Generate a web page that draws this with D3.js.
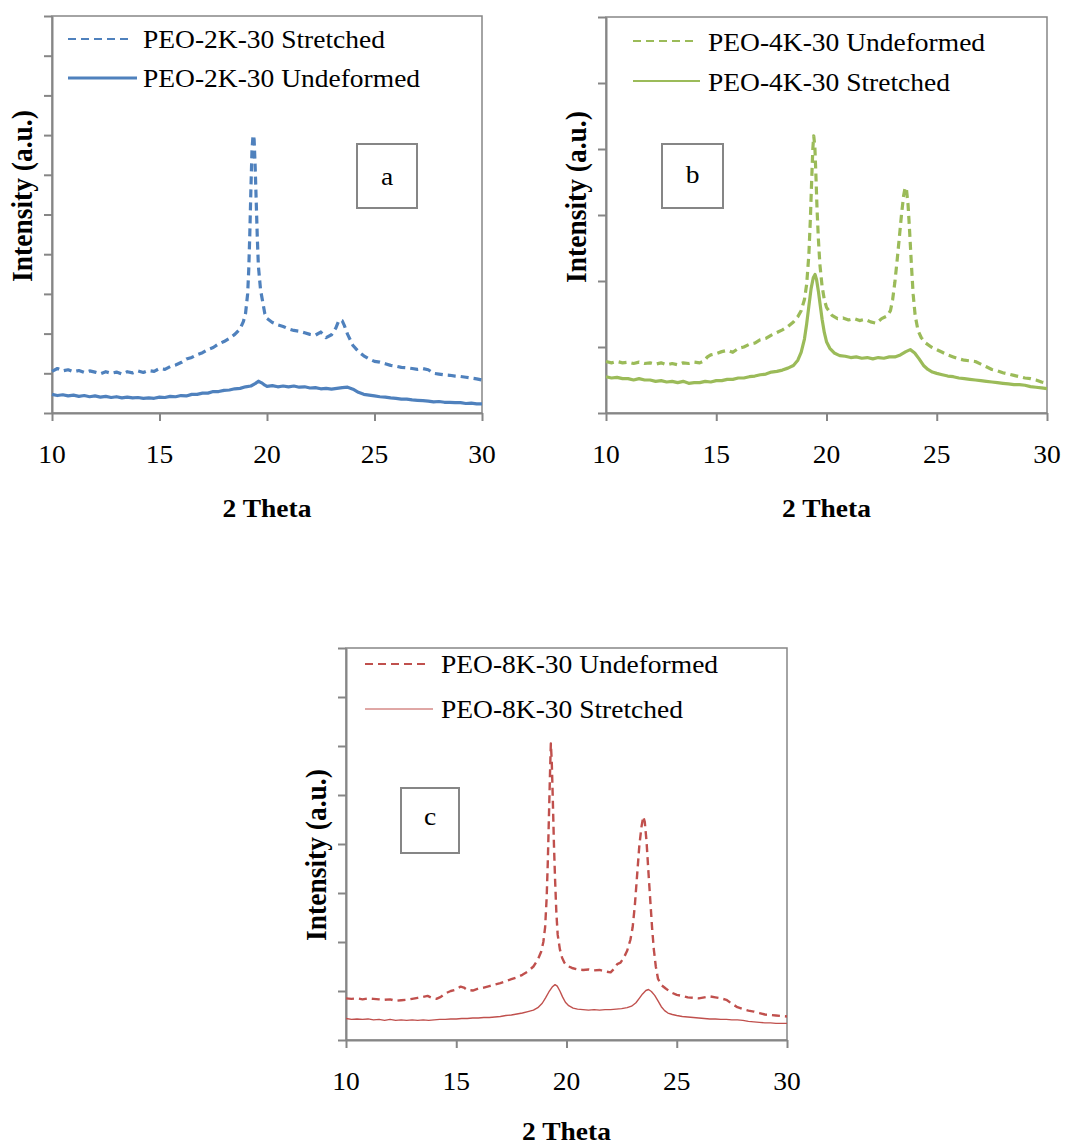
<!DOCTYPE html>
<html>
<head>
<meta charset="utf-8">
<script src="https://cdn.jsdelivr.net/npm/d3@7"></script>
<style>
  html, body { margin: 0; padding: 0; background: #fff; }
  svg { display: block; }
  text { font-family: "Liberation Serif", "Times New Roman", serif; fill: #000; }
</style>
</head>
<body>
<svg id="chart" width="1065" height="1148"></svg>
<script>
// 2θ tick labels shared by all three diffractograms
const thetaTicks = [10, 15, 20, 25, 30];

// PEO-2K-30 (panel a): [2θ, intensity a.u.]
const peo2kStretched = [[10,1.05],[10.25,1.12],[10.5,1.06],[10.75,1.09],[11,1.04],[11.25,1.07],[11.5,1.02],[11.75,1.06],[12,1.03],[12.25,0.99],[12.5,1.04],[12.75,1.00],[13,1.03],[13.25,0.98],[13.5,1.04],[13.75,1.01],[14,1.06],[14.25,1.02],[14.5,1.07],[14.75,1.05],[15,1.12],[15.25,1.10],[15.5,1.17],[15.75,1.21],[16,1.27],[16.25,1.36],[16.5,1.40],[16.75,1.47],[17,1.52],[17.25,1.60],[17.5,1.65],[17.75,1.74],[18,1.80],[18.25,1.88],[18.5,1.98],[18.75,2.12],[18.9,2.30],[19,2.50],[19.1,3.0],[19.15,3.6],[19.2,4.5],[19.25,5.6],[19.3,6.6],[19.35,7.0],[19.4,6.9],[19.45,6.2],[19.5,5.3],[19.55,4.4],[19.6,3.7],[19.7,3.1],[19.8,2.8],[19.9,2.5],[20,2.38],[20.25,2.28],[20.5,2.22],[20.75,2.18],[21,2.12],[21.25,2.08],[21.5,2.06],[21.75,2.02],[22,1.98],[22.25,1.96],[22.5,2.04],[22.75,1.90],[23,1.97],[23.2,2.14],[23.35,2.34],[23.5,2.32],[23.6,2.20],[23.75,1.98],[24,1.70],[24.25,1.55],[24.5,1.44],[24.75,1.36],[25,1.30],[25.25,1.28],[25.5,1.24],[25.75,1.20],[26,1.18],[26.25,1.15],[26.5,1.14],[26.75,1.12],[27,1.10],[27.25,1.12],[27.5,1.09],[27.75,1.00],[28,0.98],[28.25,0.96],[28.5,0.95],[28.75,0.93],[29,0.92],[29.25,0.90],[29.5,0.88],[29.75,0.86],[30,0.83]];
const peo2kUndeformed = [[10,0.47],[10.25,0.44],[10.5,0.46],[10.75,0.43],[11,0.45],[11.25,0.42],[11.5,0.44],[11.75,0.41],[12,0.43],[12.25,0.40],[12.5,0.42],[12.75,0.39],[13,0.41],[13.25,0.38],[13.5,0.40],[13.75,0.38],[14,0.39],[14.25,0.37],[14.5,0.38],[14.75,0.37],[15,0.40],[15.25,0.39],[15.5,0.42],[15.75,0.41],[16,0.44],[16.25,0.43],[16.5,0.47],[16.75,0.47],[17,0.50],[17.25,0.50],[17.5,0.54],[17.75,0.54],[18,0.57],[18.25,0.58],[18.5,0.61],[18.75,0.62],[19,0.66],[19.25,0.68],[19.45,0.74],[19.6,0.80],[19.75,0.76],[19.9,0.70],[20,0.67],[20.25,0.69],[20.5,0.66],[20.75,0.68],[21,0.66],[21.25,0.68],[21.5,0.65],[21.75,0.66],[22,0.63],[22.25,0.64],[22.5,0.61],[22.75,0.62],[23,0.60],[23.25,0.62],[23.5,0.64],[23.75,0.65],[24,0.60],[24.25,0.52],[24.5,0.47],[24.75,0.45],[25,0.43],[25.25,0.41],[25.5,0.40],[25.75,0.38],[26,0.37],[26.25,0.35],[26.5,0.35],[26.75,0.33],[27,0.32],[27.25,0.31],[27.5,0.30],[27.75,0.28],[28,0.29],[28.25,0.27],[28.5,0.27],[28.75,0.26],[29,0.26],[29.25,0.24],[29.5,0.25],[29.75,0.23],[30,0.23]];

// PEO-4K-30 (panel b)
const peo4kUndeformed = [[10,0.78],[10.25,0.76],[10.5,0.78],[10.75,0.76],[11,0.77],[11.25,0.75],[11.5,0.77],[11.75,0.75],[12,0.76],[12.25,0.74],[12.5,0.76],[12.75,0.73],[13,0.75],[13.25,0.73],[13.5,0.76],[13.75,0.75],[14,0.77],[14.25,0.76],[14.45,0.79],[14.6,0.85],[14.75,0.88],[15,0.90],[15.25,0.93],[15.5,0.95],[15.75,0.92],[16,0.98],[16.25,1.00],[16.5,1.04],[16.75,1.06],[17,1.11],[17.25,1.13],[17.5,1.18],[17.75,1.22],[18,1.26],[18.25,1.31],[18.5,1.38],[18.7,1.46],[18.85,1.55],[19,1.72],[19.1,1.95],[19.2,2.4],[19.27,2.95],[19.33,3.55],[19.38,4.0],[19.42,4.2],[19.47,4.05],[19.52,3.6],[19.57,3.1],[19.63,2.65],[19.7,2.25],[19.8,1.92],[19.9,1.72],[20,1.60],[20.25,1.48],[20.5,1.43],[20.75,1.44],[21,1.41],[21.25,1.43],[21.5,1.40],[21.75,1.42],[22,1.38],[22.25,1.36],[22.5,1.43],[22.75,1.47],[22.9,1.55],[23,1.72],[23.1,1.98],[23.2,2.3],[23.3,2.65],[23.4,3.0],[23.5,3.3],[23.57,3.42],[23.63,3.38],[23.7,3.15],[23.77,2.75],[23.85,2.25],[23.93,1.8],[24.02,1.48],[24.15,1.25],[24.3,1.14],[24.5,1.06],[24.75,1.00],[25,0.96],[25.25,0.92],[25.5,0.88],[25.75,0.85],[26,0.82],[26.25,0.80],[26.5,0.79],[26.75,0.78],[27,0.74],[27.25,0.70],[27.5,0.66],[27.75,0.64],[28,0.61],[28.25,0.59],[28.5,0.57],[28.75,0.55],[29,0.53],[29.25,0.52],[29.5,0.50],[29.75,0.47],[30,0.45]];
const peo4kStretched = [[10,0.55],[10.25,0.53],[10.5,0.54],[10.75,0.52],[11,0.52],[11.25,0.50],[11.5,0.52],[11.75,0.50],[12,0.50],[12.25,0.48],[12.5,0.49],[12.75,0.47],[13,0.48],[13.25,0.46],[13.5,0.48],[13.75,0.45],[14,0.46],[14.25,0.46],[14.5,0.48],[14.75,0.47],[15,0.49],[15.25,0.49],[15.5,0.51],[15.75,0.51],[16,0.53],[16.25,0.53],[16.5,0.55],[16.75,0.56],[17,0.58],[17.25,0.59],[17.5,0.62],[17.75,0.63],[18,0.65],[18.25,0.68],[18.5,0.72],[18.7,0.80],[18.85,0.92],[19,1.12],[19.1,1.35],[19.2,1.62],[19.3,1.88],[19.4,2.05],[19.48,2.10],[19.55,2.02],[19.63,1.85],[19.72,1.62],[19.8,1.42],[19.9,1.22],[20,1.08],[20.15,0.98],[20.35,0.91],[20.6,0.87],[20.85,0.86],[21.1,0.84],[21.35,0.85],[21.6,0.83],[21.85,0.84],[22.1,0.82],[22.35,0.84],[22.6,0.83],[22.85,0.85],[23.1,0.85],[23.35,0.88],[23.6,0.93],[23.8,0.96],[24,0.91],[24.2,0.82],[24.4,0.72],[24.6,0.66],[24.8,0.62],[25,0.60],[25.25,0.58],[25.5,0.56],[25.75,0.55],[26,0.53],[26.25,0.52],[26.5,0.51],[26.75,0.50],[27,0.49],[27.25,0.48],[27.5,0.47],[27.75,0.46],[28,0.45],[28.25,0.44],[28.5,0.43],[28.75,0.43],[29,0.42],[29.25,0.40],[29.5,0.39],[29.75,0.38],[30,0.37]];

// PEO-8K-30 (panel c)
const peo8kUndeformed = [[10,0.85],[10.25,0.84],[10.5,0.85],[10.75,0.83],[11,0.85],[11.25,0.84],[11.5,0.83],[11.75,0.82],[12,0.83],[12.25,0.80],[12.5,0.81],[12.75,0.82],[13,0.84],[13.25,0.86],[13.5,0.88],[13.7,0.90],[13.9,0.86],[14.1,0.84],[14.3,0.88],[14.5,0.95],[14.75,1.00],[15,1.03],[15.2,1.09],[15.35,1.07],[15.5,1.02],[15.75,1.01],[16,1.05],[16.25,1.07],[16.5,1.10],[16.75,1.13],[17,1.16],[17.25,1.20],[17.5,1.24],[17.75,1.28],[18,1.33],[18.25,1.40],[18.5,1.50],[18.7,1.64],[18.85,1.80],[18.95,2.0],[19.03,2.3],[19.1,2.9],[19.15,3.6],[19.2,4.5],[19.25,5.4],[19.29,6.05],[19.33,5.7],[19.38,4.9],[19.43,4.0],[19.48,3.3],[19.54,2.6],[19.6,2.15],[19.7,1.85],[19.8,1.68],[19.9,1.58],[20,1.52],[20.25,1.47],[20.5,1.44],[20.75,1.43],[21,1.44],[21.25,1.42],[21.5,1.43],[21.75,1.40],[22,1.38],[22.15,1.45],[22.3,1.55],[22.45,1.58],[22.6,1.68],[22.75,1.82],[22.9,2.05],[23,2.3],[23.1,2.75],[23.2,3.35],[23.3,3.95],[23.4,4.35],[23.48,4.56],[23.55,4.45],[23.63,4.05],[23.72,3.4],[23.8,2.85],[23.88,2.3],[23.96,1.85],[24.05,1.5],[24.15,1.25],[24.3,1.12],[24.5,1.05],[24.75,0.97],[25,0.92],[25.25,0.90],[25.5,0.87],[25.75,0.86],[26,0.85],[26.25,0.87],[26.5,0.89],[26.75,0.87],[27,0.85],[27.25,0.82],[27.5,0.74],[27.75,0.67],[28,0.63],[28.25,0.60],[28.5,0.58],[28.75,0.55],[29,0.52],[29.25,0.51],[29.5,0.50],[29.75,0.49],[30,0.48]];
const peo8kStretched = [[10,0.44],[10.25,0.42],[10.5,0.43],[10.75,0.42],[11,0.43],[11.25,0.41],[11.5,0.42],[11.75,0.40],[12,0.42],[12.25,0.40],[12.5,0.41],[12.75,0.40],[13,0.41],[13.25,0.40],[13.5,0.41],[13.75,0.40],[14,0.41],[14.25,0.42],[14.5,0.42],[14.75,0.43],[15,0.43],[15.25,0.44],[15.5,0.44],[15.75,0.45],[16,0.45],[16.25,0.46],[16.5,0.46],[16.75,0.47],[17,0.48],[17.25,0.50],[17.5,0.51],[17.75,0.53],[18,0.55],[18.25,0.58],[18.5,0.61],[18.7,0.66],[18.9,0.75],[19.05,0.86],[19.2,0.98],[19.35,1.08],[19.48,1.13],[19.58,1.10],[19.7,1.00],[19.82,0.88],[19.95,0.77],[20.1,0.70],[20.3,0.65],[20.5,0.63],[20.75,0.62],[21,0.61],[21.25,0.62],[21.5,0.61],[21.75,0.62],[22,0.62],[22.25,0.63],[22.5,0.64],[22.75,0.66],[22.95,0.69],[23.15,0.76],[23.3,0.85],[23.45,0.94],[23.6,1.01],[23.72,1.03],[23.85,0.99],[24,0.91],[24.15,0.80],[24.3,0.68],[24.45,0.60],[24.6,0.55],[24.8,0.52],[25,0.50],[25.25,0.48],[25.5,0.47],[25.75,0.46],[26,0.45],[26.25,0.44],[26.5,0.43],[26.75,0.43],[27,0.42],[27.25,0.42],[27.5,0.41],[27.75,0.41],[28,0.40],[28.25,0.38],[28.5,0.37],[28.75,0.36],[29,0.35],[29.25,0.35],[29.5,0.34],[29.75,0.34],[30,0.34]];

const BLUE = "#4F81BD", GREEN = "#9BBB59", RED = "#C0504D";
const AXIS = "#868686";
const STRETCH = 1.1; // glyphs are drawn slightly wide

const panels = [
  {
    box: { left: 52, right: 482, top: 16, bottom: 413 }, yMax: 10, titleGap: 104,
    yLabelY: 196, tag: "a", tagBox: { x: 357, y: 144, w: 60, h: 64 }, tagBase: 185,
    legendX: 68, textX: 143,
    series: [
      { name: "PEO-2K-30 Stretched", data: peo2kStretched, color: BLUE, width: 3.2, dash: "8,5",
        legY: 39, legBase: 48, legW: 60, legStroke: 2 },
      { name: "PEO-2K-30 Undeformed", data: peo2kUndeformed, color: BLUE, width: 3.2, dash: null,
        legY: 78, legBase: 87, legW: 69, legStroke: 3 }
    ]
  },
  {
    box: { left: 606, right: 1047, top: 17, bottom: 413 }, yMax: 6, titleGap: 104,
    yLabelY: 197, tag: "b", tagBox: { x: 662, y: 144, w: 61, h: 64 }, tagBase: 183,
    legendX: 633, textX: 708,
    series: [
      { name: "PEO-4K-30 Undeformed", data: peo4kUndeformed, color: GREEN, width: 3.2, dash: "8,5",
        legY: 41, legBase: 51, legW: 60, legStroke: 2 },
      { name: "PEO-4K-30 Stretched", data: peo4kStretched, color: GREEN, width: 3.2, dash: null,
        legY: 81, legBase: 91, legW: 67, legStroke: 2.2 }
    ]
  },
  {
    box: { left: 346, right: 787, top: 648, bottom: 1040 }, yMax: 8, titleGap: 100,
    yLabelY: 855, tag: "c", tagBox: { x: 401, y: 788, w: 58, h: 65 }, tagBase: 825,
    legendX: 365, textX: 441,
    series: [
      { name: "PEO-8K-30 Undeformed", data: peo8kUndeformed, color: RED, width: 2.4, dash: "8,5",
        legY: 664, legBase: 673, legW: 63, legStroke: 2 },
      { name: "PEO-8K-30 Stretched", data: peo8kStretched, color: RED, width: 1.4, dash: null,
        legY: 709, legBase: 718, legW: 68, legStroke: 1 }
    ]
  }
];

const svg = d3.select("#chart");

// horizontally widened text at (x, y)
function wideText(g, x, y, str, opts = {}) {
  const t = g.append("text")
    .attr("transform", `translate(${x},${y}) scale(${STRETCH},1)` + (opts.rotate ? ` rotate(${opts.rotate})` : ""))
    .attr("font-size", opts.size || 25)
    .attr("text-anchor", opts.anchor || "start")
    .text(str);
  if (opts.bold) t.attr("font-weight", "bold");
  return t;
}

panels.forEach(p => {
  const b = p.box;
  const g = svg.append("g");
  const x = d3.scaleLinear().domain([10, 30]).range([b.left, b.right]);
  const y = d3.scaleLinear().domain([0, p.yMax]).range([b.bottom, b.top]);

  // plot-area frame
  g.append("rect")
    .attr("x", b.left).attr("y", b.top)
    .attr("width", b.right - b.left).attr("height", b.bottom - b.top)
    .attr("fill", "none").attr("stroke", AXIS).attr("stroke-width", 1.5);

  // y axis: unlabelled ticks every unit
  const yAxis = d3.axisLeft(y).tickValues(d3.range(0, p.yMax + 1)).tickFormat("").tickSize(8).tickSizeOuter(0);
  g.append("g").attr("transform", `translate(${b.left},0)`).call(yAxis)
    .call(s => s.select(".domain").attr("stroke", AXIS).attr("stroke-width", 2))
    .call(s => s.selectAll(".tick line").attr("stroke", AXIS).attr("stroke-width", 2));

  // x axis
  const xAxis = d3.axisBottom(x).tickValues(thetaTicks).tickFormat("").tickSize(8).tickSizeOuter(0);
  g.append("g").attr("transform", `translate(0,${b.bottom})`).call(xAxis)
    .call(s => s.select(".domain").attr("stroke", AXIS).attr("stroke-width", 2))
    .call(s => s.selectAll(".tick line").attr("stroke", AXIS).attr("stroke-width", 2));

  thetaTicks.forEach(t => wideText(g, x(t), b.bottom + 50, String(t), { anchor: "middle" }));

  // axis titles
  wideText(g, (b.left + b.right) / 2, b.bottom + p.titleGap, "2 Theta", { anchor: "middle", bold: true });
  wideText(g, b.left - 20, p.yLabelY, "Intensity (a.u.)", { anchor: "middle", bold: true, rotate: -90, size: 27.5 });

  // diffraction curves
  const line = d3.line().x(d => x(d[0])).y(d => y(d[1]));
  p.series.forEach(s => {
    g.append("path").datum(s.data)
      .attr("d", line)
      .attr("fill", "none")
      .attr("stroke", s.color)
      .attr("stroke-width", s.width)
      .attr("stroke-linejoin", "round")
      .attr("stroke-dasharray", s.dash);
  });

  // legend
  p.series.forEach(s => {
    g.append("line")
      .attr("x1", p.legendX).attr("x2", p.legendX + s.legW)
      .attr("y1", s.legY).attr("y2", s.legY)
      .attr("stroke", s.color).attr("stroke-width", s.legStroke)
      .attr("stroke-dasharray", s.dash);
    wideText(g, p.textX, s.legBase, s.name);
  });

  // panel tag
  const tb = p.tagBox;
  g.append("rect").attr("x", tb.x).attr("y", tb.y).attr("width", tb.w).attr("height", tb.h)
    .attr("fill", "#fff").attr("stroke", AXIS).attr("stroke-width", 2);
  wideText(g, tb.x + tb.w / 2, p.tagBase, p.tag, { anchor: "middle" });
});
</script>
</body>
</html>
